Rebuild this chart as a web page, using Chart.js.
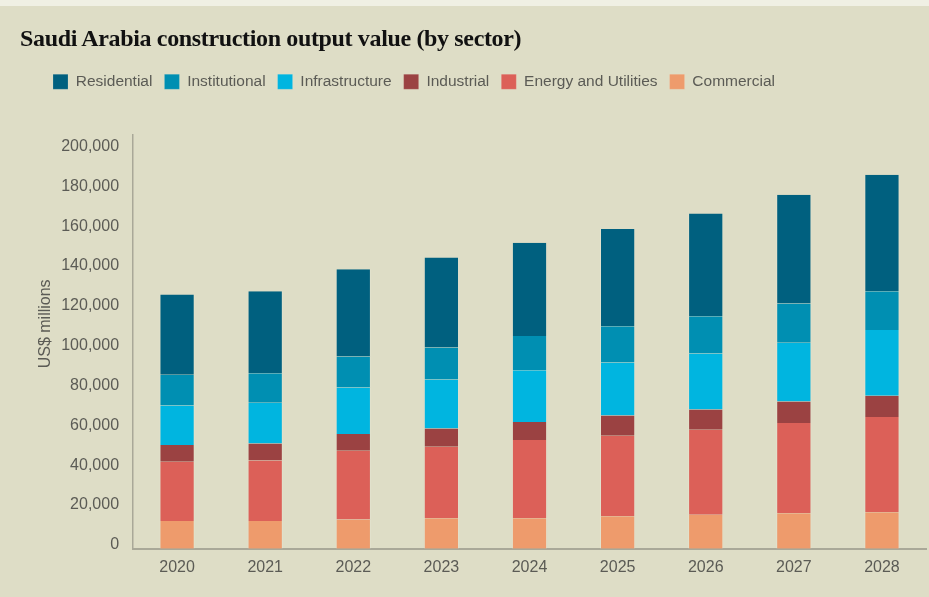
<!DOCTYPE html>
<html>
<head>
<meta charset="utf-8">
<script src="https://cdn.jsdelivr.net/npm/chart.js@4.4.1/dist/chart.umd.min.js"></script>
<style>
  html, body { margin: 0; padding: 0; }
  body {
    width: 929px; height: 597px; overflow: hidden;
    background: #deddc6;
    position: relative;
  }
  #topstrip { position: absolute; left: 0; top: 0; width: 929px; height: 6px; background: #f0f0e4; }
  #title {
    position: absolute; left: 20px; top: 25px;
    font-family: "Liberation Serif", "DejaVu Serif", serif;
    font-weight: bold; font-size: 24px; letter-spacing: -0.35px;
    color: #111; white-space: nowrap;
  }
  #wrap { position: absolute; left: 0; top: 0; width: 929px; height: 597px; }
</style>
</head>
<body>
<div id="topstrip"></div>
<div id="wrap"><canvas id="chart"></canvas></div>
<div id="title">Saudi Arabia construction output value (by sector)</div>
<script>
// values in US$ millions
const years = ["2020", "2021", "2022", "2023", "2024", "2025", "2026", "2027", "2028"];
const commercial     = [13900, 13900, 14700, 15400, 15400, 16400, 17100, 17900, 18400];
const energy         = [29800, 30400, 34500, 35800, 39200, 40400, 42700, 45300, 47800];
const industrial     = [8400, 8600, 8400, 9200, 9100, 10100, 10100, 10700, 10700];
const infrastructure = [19800, 20400, 23400, 24600, 25900, 26600, 28200, 29600, 32900];
const institutional  = [15500, 14800, 15600, 16100, 17200, 18200, 18700, 19700, 19500];
const residential    = [40300, 41200, 43700, 45200, 46800, 48900, 51500, 54500, 58500];
const yTicks = [0, 20000, 40000, 60000, 80000, 100000, 120000, 140000, 160000, 180000, 200000];

const gray = "#5b5b55";
const axisColor = "#a9a898";
const sans = "'Liberation Sans', Arial, sans-serif";

function ds(label, data, color) {
  return {
    label, data,
    backgroundColor: color,
    borderColor: "rgba(235,235,220,0.35)",
    borderWidth: { left: 1, right: 1, top: 0, bottom: 0 },
    barPercentage: 0.4,
    categoryPercentage: 1
  };
}

// make room under the legend and nudge it right
const legendTweak = {
  id: "legendTweak",
  beforeInit(chart) {
    const fit = chart.legend.fit;
    chart.legend.fit = function () {
      fit.call(this);
      this.height += 35;
    };
  },
  afterLayout(chart) {
    chart.legend.left += 5;
  }
};

new Chart(document.getElementById("chart"), {
  type: "bar",
  data: {
    labels: years,
    datasets: [
      ds("Commercial", commercial, "#ee9b6c"),
      ds("Energy and Utilities", energy, "#dc6058"),
      ds("Industrial", industrial, "#9b4242"),
      ds("Infrastructure", infrastructure, "#00b5e0"),
      ds("Institutional", institutional, "#008fb2"),
      ds("Residential", residential, "#00607f")
    ]
  },
  options: {
    responsive: true,
    maintainAspectRatio: false,
    animation: false,
    layout: { padding: { left: 36, right: 3, top: 62, bottom: 10 } },
    plugins: {
      legend: {
        position: "top",
        align: "start",
        reverse: true,
        labels: {
          boxWidth: 15, boxHeight: 15, padding: 12,
          color: gray,
          font: { family: sans, size: 15.5 }
        }
      },
      tooltip: { enabled: false }
    },
    scales: {
      x: {
        stacked: true,
        grid: { display: false, drawTicks: false },
        border: { display: true, color: axisColor, width: 2 },
        ticks: {
          color: gray, padding: 9.5,
          font: { family: sans, size: 16 }
        }
      },
      y: {
        stacked: true,
        min: 0,
        max: 208000,
        afterBuildTicks(scale) {
          scale.ticks = yTicks.map(v => ({ value: v }));
        },
        grid: { display: false, drawTicks: false },
        border: { display: true, color: axisColor, width: 1.5 },
        ticks: {
          color: gray, padding: 14, labelOffset: -4,
          font: { family: sans, size: 16 },
          callback: v => v.toLocaleString("en-US")
        },
        title: {
          display: true,
          // leading spaces lift the label a little above the axis centre
          text: "\u00a0\u00a0\u00a0\u00a0\u00a0\u00a0\u00a0\u00a0US$ millions",
          color: gray,
          padding: { top: 0, bottom: -8 },
          font: { family: sans, size: 16 }
        }
      }
    }
  },
  plugins: [legendTweak]
});
</script>
</body>
</html>
